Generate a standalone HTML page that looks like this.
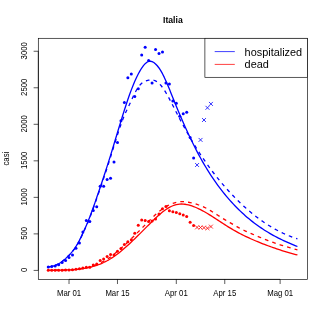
<!DOCTYPE html>
<html><head><meta charset="utf-8"><title>Italia</title>
<style>
html,body{margin:0;padding:0;background:#fff;}
body{width:327px;height:327px;overflow:hidden;font-family:"Liberation Sans",sans-serif;}
svg{display:block;will-change:transform;}
text{font-family:"Liberation Sans",sans-serif;fill:#000;}
</style></head><body>
<svg width="327" height="327" viewBox="0 0 327 327">
<rect width="327" height="327" fill="#fff"/>

<g fill="none" stroke-width="1.3" stroke-linejoin="round" stroke-linecap="butt">
<path d="M48.27,266.92 L50.00,266.70 L51.73,266.40 L53.46,266.00 L55.19,265.45 L56.92,264.68 L58.65,263.79 L60.38,262.77 L62.11,261.58 L63.84,260.20 L65.57,258.62 L67.30,256.90 L69.03,255.23 L70.76,253.46 L72.49,251.36 L74.22,249.04 L75.95,246.47 L77.68,243.62 L79.42,240.38 L81.15,236.84 L82.88,233.13 L84.61,229.35 L86.34,225.41 L88.07,221.26 L89.80,216.89 L91.53,212.32 L93.26,207.53 L94.99,202.59 L96.72,197.57 L98.45,192.52 L100.18,187.42 L101.91,182.27 L103.64,177.05 L105.37,171.76 L107.10,166.38 L108.83,160.90 L110.56,155.34 L112.29,149.69 L114.02,143.97 L115.75,138.23 L117.48,132.48 L119.21,126.75 L120.94,121.08 L122.67,115.50 L124.40,110.02 L126.13,104.69 L127.86,99.53 L129.59,94.57 L131.32,89.86 L133.05,85.44 L134.78,81.32 L136.51,77.51 L138.24,74.03 L139.97,70.86 L141.71,68.01 L143.44,65.58 L145.17,63.66 L146.90,62.28 L148.63,61.46 L150.36,61.24 L152.09,61.61 L153.82,62.52 L155.55,63.94 L157.28,65.77 L159.01,67.98 L160.74,70.60 L162.47,73.68 L164.20,77.16 L165.93,80.94 L167.66,84.94 L169.39,89.11 L171.12,93.42 L172.85,97.79 L174.58,102.11 L176.31,106.32 L178.04,110.47 L179.77,114.56 L181.50,118.59 L183.23,122.55 L184.96,126.45 L186.69,130.27 L188.42,134.03 L190.15,137.70 L191.88,141.30 L193.61,144.81 L195.34,148.25 L197.07,151.59 L198.80,154.84 L200.53,158.01 L202.26,161.09 L204.00,164.09 L205.73,167.01 L207.46,169.85 L209.19,172.61 L210.92,175.29 L212.65,177.90 L214.38,180.44 L216.11,182.91 L217.84,185.31 L219.57,187.64 L221.30,189.91 L223.03,192.12 L224.76,194.26 L226.49,196.35 L228.22,198.38 L229.95,200.36 L231.68,202.28 L233.41,204.15 L235.14,205.97 L236.87,207.75 L238.60,209.47 L240.33,211.14 L242.06,212.77 L243.79,214.35 L245.52,215.89 L247.25,217.39 L248.98,218.84 L250.71,220.25 L252.44,221.62 L254.17,222.95 L255.90,224.25 L257.63,225.50 L259.36,226.72 L261.09,227.91 L262.82,229.06 L264.55,230.18 L266.29,231.26 L268.02,232.32 L269.75,233.34 L271.48,234.34 L273.21,235.31 L274.94,236.25 L276.67,237.16 L278.40,238.05 L280.13,238.92 L281.86,239.77 L283.59,240.59 L285.32,241.39 L287.05,242.18 L288.78,242.94 L290.51,243.69 L292.24,244.42 L293.97,245.13 L295.70,245.84 L297.43,246.52" stroke="#0000ff"/>
<path d="M48.27,266.92 L50.00,266.66 L51.73,266.32 L53.46,265.90 L55.19,265.33 L56.92,264.55 L58.65,263.66 L60.38,262.64 L62.11,261.47 L63.84,260.10 L65.57,258.55 L67.30,256.86 L69.03,255.23 L70.76,253.50 L72.49,251.45 L74.22,249.17 L75.95,246.66 L77.68,243.86 L79.42,240.69 L81.15,237.21 L82.88,233.57 L84.61,229.85 L86.34,225.99 L88.07,221.91 L89.80,217.62 L91.53,213.12 L93.26,208.41 L94.99,203.54 L96.72,198.60 L98.45,193.62 L100.18,188.60 L101.91,183.52 L103.64,178.37 L105.37,173.15 L107.10,167.84 L108.83,162.44 L110.56,156.94 L112.29,151.36 L114.02,145.76 L115.75,140.21 L117.48,134.77 L119.21,129.50 L120.94,124.47 L122.67,119.74 L124.40,115.38 L126.13,111.46 L127.86,107.88 L129.59,104.33 L131.32,100.54 L133.05,96.69 L134.78,93.15 L136.51,90.01 L138.24,87.30 L139.97,85.07 L141.71,83.33 L143.44,82.05 L145.17,81.14 L146.90,80.53 L148.63,80.13 L150.36,79.92 L152.09,79.94 L153.82,80.24 L155.55,80.88 L157.28,81.92 L159.01,83.37 L160.74,85.22 L162.47,87.42 L164.20,89.93 L165.93,92.71 L167.66,95.70 L169.39,98.86 L171.12,102.14 L172.85,105.51 L174.58,108.90 L176.31,112.29 L178.04,115.63 L179.77,118.93 L181.50,122.19 L183.23,125.40 L184.96,128.56 L186.69,131.68 L188.42,134.74 L190.15,137.75 L191.88,140.70 L193.61,143.60 L195.34,146.43 L197.07,149.21 L198.80,151.93 L200.53,154.59 L202.26,157.19 L204.00,159.74 L205.73,162.23 L207.46,164.68 L209.19,167.08 L210.92,169.43 L212.65,171.74 L214.38,173.99 L216.11,176.21 L217.84,178.38 L219.57,180.50 L221.30,182.59 L223.03,184.63 L224.76,186.63 L226.49,188.59 L228.22,190.52 L229.95,192.41 L231.68,194.26 L233.41,196.07 L235.14,197.85 L236.87,199.60 L238.60,201.31 L240.33,202.98 L242.06,204.61 L243.79,206.22 L245.52,207.78 L247.25,209.31 L248.98,210.81 L250.71,212.27 L252.44,213.69 L254.17,215.08 L255.90,216.44 L257.63,217.76 L259.36,219.05 L261.09,220.30 L262.82,221.52 L264.55,222.71 L266.29,223.86 L268.02,224.97 L269.75,226.06 L271.48,227.10 L273.21,228.12 L274.94,229.10 L276.67,230.05 L278.40,230.97 L280.13,231.85 L281.86,232.70 L283.59,233.51 L285.32,234.30 L287.05,235.05 L288.78,235.76 L290.51,236.45 L292.24,237.10 L293.97,237.72 L295.70,238.31 L297.43,238.87" stroke="#0000ff" stroke-dasharray="3.7 4.1" stroke-dashoffset="1.3"/>
<path d="M48.27,270.41 L50.00,270.34 L51.73,270.29 L53.46,270.25 L55.19,270.21 L56.92,270.17 L58.65,270.14 L60.38,270.11 L62.11,270.07 L63.84,270.04 L65.57,269.99 L67.30,269.93 L69.03,269.86 L70.76,269.78 L72.49,269.68 L74.22,269.57 L75.95,269.43 L77.68,269.27 L79.42,269.08 L81.15,268.87 L82.88,268.62 L84.61,268.34 L86.34,268.03 L88.07,267.69 L89.80,267.30 L91.53,266.87 L93.26,266.40 L94.99,265.88 L96.72,265.31 L98.45,264.70 L100.18,264.03 L101.91,263.30 L103.64,262.52 L105.37,261.68 L107.10,260.77 L108.83,259.81 L110.56,258.77 L112.29,257.67 L114.02,256.50 L115.75,255.28 L117.48,253.99 L119.21,252.65 L120.94,251.26 L122.67,249.82 L124.40,248.34 L126.13,246.82 L127.86,245.26 L129.59,243.67 L131.32,242.05 L133.05,240.40 L134.78,238.72 L136.51,237.03 L138.24,235.32 L139.97,233.60 L141.71,231.87 L143.44,230.13 L145.17,228.40 L146.90,226.66 L148.63,224.93 L150.36,223.21 L152.09,221.51 L153.82,219.82 L155.55,218.17 L157.28,216.56 L159.01,215.00 L160.74,213.50 L162.47,212.08 L164.20,210.75 L165.93,209.52 L167.66,208.40 L169.39,207.40 L171.12,206.52 L172.85,205.76 L174.58,205.14 L176.31,204.64 L178.04,204.29 L179.77,204.07 L181.50,204.00 L183.23,204.06 L184.96,204.25 L186.69,204.54 L188.42,204.92 L190.15,205.40 L191.88,205.95 L193.61,206.57 L195.34,207.25 L197.07,208.00 L198.80,208.80 L200.53,209.66 L202.26,210.56 L204.00,211.51 L205.73,212.50 L207.46,213.52 L209.19,214.57 L210.92,215.64 L212.65,216.74 L214.38,217.85 L216.11,218.98 L217.84,220.11 L219.57,221.25 L221.30,222.39 L223.03,223.52 L224.76,224.64 L226.49,225.74 L228.22,226.83 L229.95,227.89 L231.68,228.93 L233.41,229.94 L235.14,230.92 L236.87,231.88 L238.60,232.81 L240.33,233.72 L242.06,234.61 L243.79,235.47 L245.52,236.32 L247.25,237.14 L248.98,237.94 L250.71,238.73 L252.44,239.49 L254.17,240.24 L255.90,240.98 L257.63,241.70 L259.36,242.40 L261.09,243.10 L262.82,243.78 L264.55,244.45 L266.29,245.10 L268.02,245.75 L269.75,246.38 L271.48,247.01 L273.21,247.62 L274.94,248.22 L276.67,248.81 L278.40,249.39 L280.13,249.96 L281.86,250.51 L283.59,251.06 L285.32,251.59 L287.05,252.11 L288.78,252.62 L290.51,253.11 L292.24,253.59 L293.97,254.07 L295.70,254.52 L297.43,254.97" stroke="#ff0000"/>
<path d="M48.27,270.41 L50.00,270.34 L51.73,270.29 L53.46,270.25 L55.19,270.21 L56.92,270.17 L58.65,270.14 L60.38,270.11 L62.11,270.07 L63.84,270.04 L65.57,269.99 L67.30,269.93 L69.03,269.86 L70.76,269.78 L72.49,269.67 L74.22,269.53 L75.95,269.36 L77.68,269.16 L79.42,268.94 L81.15,268.69 L82.88,268.41 L84.61,268.09 L86.34,267.73 L88.07,267.33 L89.80,266.88 L91.53,266.39 L93.26,265.84 L94.99,265.22 L96.72,264.54 L98.45,263.81 L100.18,263.01 L101.91,262.16 L103.64,261.25 L105.37,260.27 L107.10,259.23 L108.83,258.11 L110.56,256.92 L112.29,255.64 L114.02,254.29 L115.75,252.87 L117.48,251.40 L119.21,249.91 L120.94,248.40 L122.67,246.86 L124.40,245.28 L126.13,243.67 L127.86,242.03 L129.59,240.38 L131.32,238.71 L133.05,237.02 L134.78,235.31 L136.51,233.59 L138.24,231.85 L139.97,230.10 L141.71,228.35 L143.44,226.59 L145.17,224.83 L146.90,223.07 L148.63,221.33 L150.36,219.61 L152.09,217.91 L153.82,216.22 L155.55,214.58 L157.28,213.05 L159.01,211.63 L160.74,210.24 L162.47,208.92 L164.20,207.70 L165.93,206.59 L167.66,205.62 L169.39,204.76 L171.12,204.00 L172.85,203.38 L174.58,202.83 L176.31,202.33 L178.04,201.93 L179.77,201.68 L181.50,201.58 L183.23,201.61 L184.96,201.75 L186.69,201.96 L188.42,202.24 L190.15,202.59 L191.88,202.97 L193.61,203.39 L195.34,203.86 L197.07,204.39 L198.80,204.99 L200.53,205.62 L202.26,206.33 L204.00,207.11 L205.73,207.96 L207.46,208.85 L209.19,209.81 L210.92,210.84 L212.65,211.94 L214.38,213.05 L216.11,214.18 L217.84,215.31 L219.57,216.42 L221.30,217.49 L223.03,218.55 L224.76,219.59 L226.49,220.59 L228.22,221.58 L229.95,222.59 L231.68,223.64 L233.41,224.68 L235.14,225.69 L236.87,226.67 L238.60,227.61 L240.33,228.52 L242.06,229.38 L243.79,230.22 L245.52,231.04 L247.25,231.83 L248.98,232.60 L250.71,233.36 L252.44,234.11 L254.17,234.85 L255.90,235.58 L257.63,236.31 L259.36,237.03 L261.09,237.75 L262.82,238.46 L264.55,239.16 L266.29,239.85 L268.02,240.52 L269.75,241.18 L271.48,241.81 L273.21,242.42 L274.94,243.02 L276.67,243.61 L278.40,244.19 L280.13,244.76 L281.86,245.31 L283.59,245.86 L285.32,246.39 L287.05,246.91 L288.78,247.42 L290.51,247.91 L292.24,248.39 L293.97,248.87 L295.70,249.32 L297.43,249.77" stroke="#ff0000" stroke-dasharray="3.7 4.1" stroke-dashoffset="0.8"/>
</g>
<g fill="#0000ff">
<circle cx="48.27" cy="266.97" r="1.5"/>
<circle cx="51.73" cy="266.5" r="1.5"/>
<circle cx="55.19" cy="266.1" r="1.5"/>
<circle cx="58.65" cy="264.8" r="1.5"/>
<circle cx="62.11" cy="262.6" r="1.5"/>
<circle cx="65.57" cy="260.6" r="1.5"/>
<circle cx="69.03" cy="257.6" r="1.5"/>
<circle cx="72.49" cy="255.1" r="1.5"/>
<circle cx="75.95" cy="248.2" r="1.5"/>
<circle cx="79.42" cy="243.1" r="1.5"/>
<circle cx="82.88" cy="232.0" r="1.5"/>
<circle cx="86.34" cy="220.6" r="1.5"/>
<circle cx="89.80" cy="221.4" r="1.5"/>
<circle cx="93.26" cy="210.6" r="1.5"/>
<circle cx="96.72" cy="206.8" r="1.5"/>
<circle cx="100.18" cy="186.2" r="1.5"/>
<circle cx="103.64" cy="186.2" r="1.5"/>
<circle cx="107.10" cy="179.4" r="1.5"/>
<circle cx="110.56" cy="178.3" r="1.5"/>
<circle cx="114.02" cy="162.1" r="1.5"/>
<circle cx="117.48" cy="142.4" r="1.5"/>
<circle cx="120.94" cy="120.7" r="1.5"/>
<circle cx="124.40" cy="102.5" r="1.5"/>
<circle cx="127.86" cy="77.7" r="1.5"/>
<circle cx="131.32" cy="74.0" r="1.5"/>
<circle cx="134.78" cy="96.6" r="1.5"/>
<circle cx="138.25" cy="88.8" r="1.5"/>
<circle cx="141.71" cy="55.1" r="1.5"/>
<circle cx="145.17" cy="47.2" r="1.5"/>
<circle cx="148.63" cy="60.5" r="1.5"/>
<circle cx="152.09" cy="82.9" r="1.5"/>
<circle cx="155.55" cy="49.55" r="1.5"/>
<circle cx="159.01" cy="53.55" r="1.5"/>
<circle cx="162.47" cy="52.0" r="1.5"/>
<circle cx="165.93" cy="82.9" r="1.5"/>
<circle cx="169.39" cy="83.9" r="1.5"/>
<circle cx="172.85" cy="101.1" r="1.5"/>
<circle cx="176.31" cy="103.3" r="1.5"/>
<circle cx="179.77" cy="116.2" r="1.5"/>
<circle cx="183.23" cy="113.7" r="1.5"/>
<circle cx="186.69" cy="112.3" r="1.5"/>
<circle cx="190.15" cy="137.4" r="1.5"/>
<circle cx="193.62" cy="157.9" r="1.5"/>
</g>
<g fill="#ff0000">
<circle cx="48.27" cy="270.25" r="1.5"/>
<circle cx="51.73" cy="270.25" r="1.5"/>
<circle cx="55.19" cy="270.25" r="1.5"/>
<circle cx="58.65" cy="270.2" r="1.5"/>
<circle cx="62.11" cy="270.15" r="1.5"/>
<circle cx="65.57" cy="270.05" r="1.5"/>
<circle cx="69.03" cy="269.9" r="1.5"/>
<circle cx="72.49" cy="269.7" r="1.5"/>
<circle cx="75.95" cy="269.35" r="1.5"/>
<circle cx="79.42" cy="268.8" r="1.5"/>
<circle cx="82.88" cy="268.0" r="1.5"/>
<circle cx="86.34" cy="267.3" r="1.5"/>
<circle cx="89.80" cy="267.2" r="1.5"/>
<circle cx="93.26" cy="265.1" r="1.5"/>
<circle cx="96.72" cy="264.1" r="1.5"/>
<circle cx="100.18" cy="260.45" r="1.5"/>
<circle cx="103.64" cy="259.1" r="1.5"/>
<circle cx="107.10" cy="256.6" r="1.5"/>
<circle cx="110.56" cy="254.6" r="1.5"/>
<circle cx="114.02" cy="255.1" r="1.5"/>
<circle cx="117.48" cy="251.3" r="1.5"/>
<circle cx="120.94" cy="248.4" r="1.5"/>
<circle cx="124.40" cy="244.5" r="1.5"/>
<circle cx="127.86" cy="241.7" r="1.5"/>
<circle cx="131.32" cy="239.7" r="1.5"/>
<circle cx="134.78" cy="233.2" r="1.5"/>
<circle cx="138.25" cy="225.2" r="1.5"/>
<circle cx="141.71" cy="219.9" r="1.5"/>
<circle cx="145.17" cy="220.5" r="1.5"/>
<circle cx="148.63" cy="221.5" r="1.5"/>
<circle cx="152.09" cy="220.95" r="1.5"/>
<circle cx="155.55" cy="219.1" r="1.5"/>
<circle cx="159.01" cy="214.05" r="1.5"/>
<circle cx="162.47" cy="208.8" r="1.5"/>
<circle cx="165.93" cy="206.5" r="1.5"/>
<circle cx="169.39" cy="210.7" r="1.5"/>
<circle cx="172.85" cy="211.7" r="1.5"/>
<circle cx="176.31" cy="212.55" r="1.5"/>
<circle cx="179.77" cy="213.8" r="1.5"/>
<circle cx="183.23" cy="215.06" r="1.5"/>
<circle cx="186.69" cy="216.6" r="1.5"/>
<circle cx="190.15" cy="222.3" r="1.5"/>
<circle cx="193.62" cy="225.55" r="1.5"/>
</g>
<path fill="none" stroke="#0000ff" stroke-width="0.8" d="M195.13,163.05L199.03,166.95M195.13,166.95L199.03,163.05M198.59,137.95L202.49,141.85M198.59,141.85L202.49,137.95M202.05,118.05L205.95,121.95M202.05,121.95L205.95,118.05M205.51,105.85L209.41,109.75M205.51,109.75L209.41,105.85M208.97,101.95L212.87,105.85M208.97,105.85L212.87,101.95"/>
<path fill="none" stroke="#ff0000" stroke-width="0.8" d="M195.13,225.45L199.03,229.35M195.13,229.35L199.03,225.45M198.59,225.55L202.49,229.45M198.59,229.45L202.49,225.55M202.05,225.75L205.95,229.65M202.05,229.65L205.95,225.75M205.51,226.25L209.41,230.15M205.51,230.15L209.41,226.25M208.97,224.65L212.87,228.55M208.97,228.55L212.87,224.65"/>
<g fill="none" stroke="#000" stroke-width="0.65">
<rect x="38.3" y="38.3" width="269.10" height="241.05"/>
<path d="M69.03,279.35L280.13,279.35M69.03,279.35v4.67M117.48,279.35v4.67M176.31,279.35v4.67M224.76,279.35v4.67M280.13,279.35v4.67M38.3,270.42L38.3,51.25M38.3,270.42h-4.67M38.3,233.89h-4.67M38.3,197.36h-4.67M38.3,160.83h-4.67M38.3,124.31h-4.67M38.3,87.78h-4.67M38.3,51.25h-4.67"/>
</g>
<g font-size="8.6" text-anchor="middle">
<text transform="translate(69.03 296.3) scale(0.9058 1)">Mar 01</text>
<text transform="translate(117.48 296.3) scale(0.9058 1)">Mar 15</text>
<text transform="translate(176.31 296.3) scale(0.9058 1)">Apr 01</text>
<text transform="translate(224.76 296.3) scale(0.9058 1)">Apr 15</text>
<text transform="translate(280.13 296.3) scale(0.9058 1)">Mag 01</text>
<text transform="translate(27.3 269.92) rotate(-90) scale(0.9058 1)">0</text>
<text transform="translate(27.3 233.39) rotate(-90) scale(0.9058 1)">500</text>
<text transform="translate(27.3 196.86) rotate(-90) scale(0.9058 1)">1000</text>
<text transform="translate(27.3 160.33) rotate(-90) scale(0.9058 1)">1500</text>
<text transform="translate(27.3 123.81) rotate(-90) scale(0.9058 1)">2000</text>
<text transform="translate(27.3 87.28) rotate(-90) scale(0.9058 1)">2500</text>
<text transform="translate(27.3 50.75) rotate(-90) scale(0.9058 1)">3000</text>
<text transform="translate(9.2 158.6) rotate(-90) scale(0.9058 1)">casi</text>
</g>
<text transform="translate(172.85 22.8) scale(0.8764 1)" font-size="9.9" font-weight="bold" text-anchor="middle">Italia</text>
<rect x="204.9" y="38.3" width="102.50" height="39.00" fill="#fff" stroke="#000" stroke-width="0.65"/>
<path d="M214.7,51.6H234.8" stroke="#0000ff" stroke-width="0.75" fill="none"/>
<path d="M214.7,64.4H234.8" stroke="#ff0000" stroke-width="0.75" fill="none"/>
<g font-size="11.4">
<text transform="translate(244.6 55.8) scale(0.9561 1)">hospitalized</text>
<text transform="translate(244.6 68.2) scale(0.9561 1)">dead</text>
</g>
</svg></body></html>
